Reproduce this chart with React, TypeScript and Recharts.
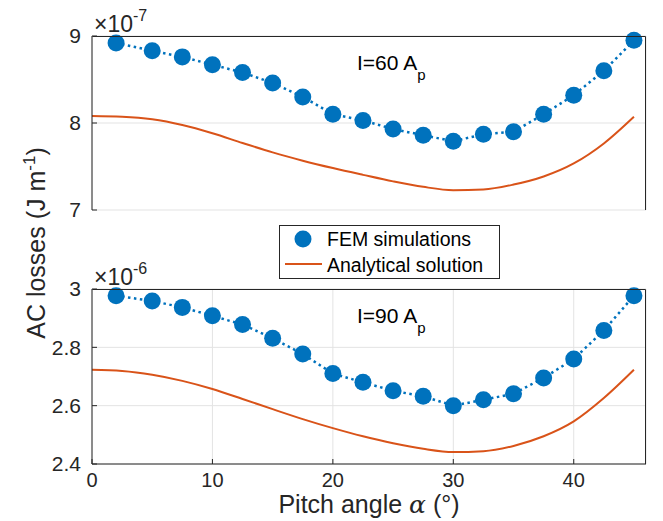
import { LineChart, Line, XAxis, YAxis, CartesianGrid } from 'recharts';

const font = '"Liberation Sans", Arial, sans-serif';
const axisColor = '#262626';
const femColor = '#0072BD';
const modelColor = '#D95319';

// pitch angle (deg) of the FEM runs
const femAngles = [2, 5, 7.5, 10, 12.5, 15, 17.5, 20, 22.5, 25, 27.5, 30, 32.5, 35, 37.5, 40, 42.5, 45];
// AC losses, I = 60 Ap (x1e-7 J/m)
const femLoss60 = [8.92, 8.83, 8.76, 8.67, 8.58, 8.46, 8.3, 8.1, 8.03, 7.93, 7.86, 7.79, 7.87, 7.9, 8.1, 8.32, 8.6, 8.95];
// AC losses, I = 90 Ap (x1e-6 J/m)
const femLoss90 = [2.977, 2.959, 2.937, 2.908, 2.878, 2.831, 2.777, 2.71, 2.68, 2.651, 2.632, 2.6, 2.62, 2.641, 2.695, 2.76, 2.858, 2.977];

// analytical solution, read every 2.5 deg
const modelAngles = [0, 2.5, 5, 7.5, 10, 12.5, 15, 17.5, 20, 22.5, 25, 27.5, 30, 32.5, 35, 37.5, 40, 42.5, 45];
const modelLoss60 = [8.08, 8.072, 8.043, 7.977, 7.882, 7.77, 7.662, 7.567, 7.482, 7.404, 7.329, 7.266, 7.228, 7.236, 7.292, 7.385, 7.535, 7.765, 8.072];
const modelLoss90 = [2.723, 2.719, 2.706, 2.685, 2.657, 2.623, 2.588, 2.554, 2.523, 2.495, 2.471, 2.452, 2.441, 2.444, 2.462, 2.495, 2.546, 2.626, 2.723];

const xTicks = [0, 10, 20, 30, 40];
const yTicks60 = [7, 8, 9];
const yTicks90 = [2.4, 2.6, 2.8, 3];

const toPoints = (xs: number[], ys: number[]) => xs.map((x, i) => ({ x, y: ys[i] }));

const tickStyle = { fontSize: 21, fill: axisColor, fontFamily: font };

function Panel({
  fem,
  model,
  yDomain,
  yTicks,
  top,
  bottom,
  showX,
}: {
  fem: number[];
  model: number[];
  yDomain: [number, number];
  yTicks: number[];
  top: number;
  bottom: number;
  showX: boolean;
}) {
  return (
    <div style={{ position: 'absolute', left: 0, top: 0 }}>
      <LineChart width={663} height={521} margin={{ top, right: 17, bottom, left: 0 }}>
        <CartesianGrid stroke="#e3e3e3" strokeWidth={1} />
        <XAxis
          type="number"
          dataKey="x"
          domain={[0, 46]}
          ticks={xTicks}
          height={showX ? 57 : 0}
          stroke={axisColor}
          tickSize={-5}
          tickMargin={14}
          tick={showX ? { ...tickStyle, fontSize: 20 } : false}
        />
        <YAxis
          type="number"
          domain={yDomain}
          ticks={yTicks}
          width={92}
          stroke={axisColor}
          tickSize={-5}
          tickMargin={16}
          tick={tickStyle}
          tickFormatter={(v: number) => String(v)}
        />
        <Line
          data={toPoints(modelAngles, model)}
          dataKey="y"
          type="monotone"
          stroke={modelColor}
          strokeWidth={2}
          dot={false}
          isAnimationActive={false}
        />
        <Line
          data={toPoints(femAngles, fem)}
          dataKey="y"
          type="linear"
          stroke={femColor}
          strokeWidth={2.5}
          strokeDasharray="2.5 3.5"
          dot={{ r: 8.5, fill: femColor, stroke: 'none', strokeDasharray: '0' }}
          isAnimationActive={false}
        />
      </LineChart>
    </div>
  );
}

export default function App() {
  return (
    <div
      style={{
        position: 'absolute',
        left: 0,
        top: 0,
        width: 663,
        height: 521,
        background: '#fff',
        fontFamily: font,
      }}
    >
      <Panel fem={femLoss60} model={modelLoss60} yDomain={[7, 9]} yTicks={yTicks60} top={36} bottom={311} showX={false} />
      <Panel fem={femLoss90} model={modelLoss90} yDomain={[2.4, 3]} yTicks={yTicks90} top={289} bottom={0} showX={true} />
      <svg width={663} height={521} style={{ position: 'absolute', left: 0, top: 0, pointerEvents: 'none' }} fontFamily={font}>
        {/* axes boxes (top and right edges) */}
        <polyline points="92.5,36.5 645.5,36.5 645.5,210" fill="none" stroke={axisColor} strokeWidth={1} />
        <polyline points="92.5,289.5 645.5,289.5 645.5,464" fill="none" stroke={axisColor} strokeWidth={1} />
        {/* exponent labels */}
        <text x={94} y={32} fontSize={23} fill={axisColor}>
          ×10
          <tspan fontSize={16} dy={-11}>-7</tspan>
        </text>
        <text x={94} y={285} fontSize={23} fill={axisColor}>
          ×10
          <tspan fontSize={16} dy={-11}>-6</tspan>
        </text>
        {/* current annotations */}
        <text x={357} y={70} fontSize={21} fill="#000">
          I=60 A
          <tspan fontSize={15} dy={10}>p</tspan>
        </text>
        <text x={357} y={323} fontSize={21} fill="#000">
          I=90 A
          <tspan fontSize={15} dy={10}>p</tspan>
        </text>
        {/* legend */}
        <rect x={279.5} y={225.5} width={220} height={53} fill="#fff" stroke={axisColor} strokeWidth={1} />
        <circle cx={303} cy={239} r={8.5} fill={femColor} />
        <line x1={285} y1={264} x2={322} y2={264} stroke={modelColor} strokeWidth={2} />
        <text x={327} y={246} fontSize={19.5} fill="#000">FEM simulations</text>
        <text x={327} y={272} fontSize={19.5} fill="#000">Analytical solution</text>
        {/* axis titles */}
        <text x={369} y={513} fontSize={25} fill={axisColor} textAnchor="middle">
          Pitch angle <tspan fontFamily='"DejaVu Serif", serif' fontStyle="italic">α</tspan> (°)
        </text>
        <text x={45} y={243} fontSize={25} fill={axisColor} textAnchor="middle" transform="rotate(-90 45 243)">
          AC losses (J m
          <tspan fontSize={17} dy={-10}>-1</tspan>
          <tspan dy={10}>)</tspan>
        </text>
      </svg>
    </div>
  );
}
